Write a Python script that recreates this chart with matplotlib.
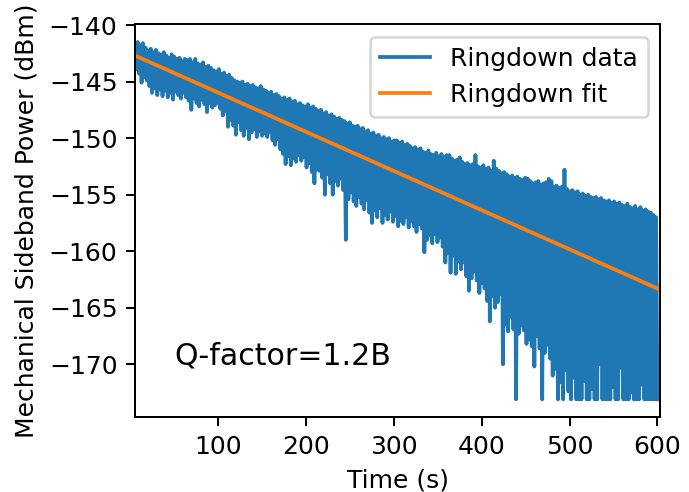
import numpy as np
import matplotlib
matplotlib.use('Agg')
import matplotlib.pyplot as plt

# Ringdown data (dBm), one peak and one trough about every 3 s
ringdown_peaks = [
    -141.6, -141.5, -141.8, -141.6, -142.0, -142.3, -142.1, -142.4, -142.2, -142.5,
    -142.6, -142.4, -142.7, -142.9, -142.6, -142.8, -143.0, -142.9, -143.2, -143.0,
    -143.1, -143.0, -143.3, -143.0, -143.4, -143.5, -143.3, -143.7, -143.6, -143.8,
    -144.0, -144.1, -143.9, -144.3, -144.2, -144.5, -144.4, -144.7, -144.9, -145.0,
    -145.1, -145.0, -145.3, -145.2, -145.4, -145.3, -145.5, -145.6, -145.4, -145.7,
    -145.8, -146.0, -145.9, -146.2, -146.1, -146.3, -146.5, -146.4, -146.6, -146.5,
    -146.8, -146.7, -147.0, -146.9, -147.1, -147.2, -147.0, -147.3, -147.2, -147.4,
    -147.6, -147.5, -147.8, -147.7, -148.0, -147.9, -148.1, -148.3, -148.2, -148.4,
    -148.5, -148.7, -148.6, -148.9, -149.0, -148.9, -149.2, -149.1, -149.4, -149.3,
    -149.6, -149.5, -149.8, -149.7, -150.0, -149.9, -150.1, -150.0, -150.3, -150.2,
    -150.2, -150.4, -150.3, -150.6, -150.5, -150.7, -150.9, -150.8, -151.0, -150.9,
    -151.2, -151.3, -151.1, -151.4, -151.5, -151.3, -151.6, -151.4, -151.7, -151.5,
    -151.5, -151.8, -152.0, -151.9, -151.7, -152.1, -152.3, -152.2, -152.4, -152.3,
    -151.5, -152.5, -152.6, -152.4, -152.7, -152.6, -152.9, -152.0, -152.7, -152.9,
    -153.1, -153.0, -153.2, -153.4, -153.3, -153.5, -153.4, -153.6, -153.7, -153.5,
    -153.6, -153.8, -154.0, -153.9, -153.8, -154.1, -154.0, -153.9, -153.6, -153.8,
    -154.3, -154.2, -154.4, -154.3, -152.8, -154.5, -154.7, -154.6, -154.8, -154.7,
    -155.0, -154.9, -155.1, -155.0, -155.2, -155.3, -155.2, -155.4, -155.3, -155.5,
    -155.6, -155.5, -155.7, -155.6, -155.8, -155.7, -155.9, -156.0, -155.8, -156.1,
    -156.2, -156.0, -156.3, -156.1, -156.4, -156.3, -156.5, -156.6, -156.8, -157.0,
]
ringdown_troughs = [
    -143.9, -144.3, -145.1, -144.6, -144.9, -145.4, -146.0, -145.6, -146.2, -145.7,
    -146.3, -145.8, -146.4, -146.0, -146.6, -145.9, -146.2, -146.5, -146.0, -146.4,
    -146.7, -147.5, -146.5, -146.9, -147.2, -146.6, -147.0, -147.7, -146.9, -147.3,
    -147.1, -146.9, -147.4, -148.0, -147.6, -149.0, -148.4, -148.9, -149.7, -148.6,
    -149.3, -149.8, -149.1, -150.1, -149.5, -149.2, -149.9, -149.4, -149.8, -149.6,
    -149.9, -149.5, -150.2, -150.6, -150.1, -151.0, -151.4, -152.3, -151.6, -152.4,
    -151.8, -152.1, -151.5, -152.0, -151.7, -152.6, -152.2, -153.0, -154.0, -152.8,
    -152.9, -153.5, -155.0, -153.2, -154.0, -155.0, -153.8, -154.2, -153.6, -154.6,
    -159.0, -155.4, -154.8, -155.6, -156.0, -155.2, -155.8, -156.3, -155.5, -156.6,
    -157.5, -156.4, -157.0, -156.2, -157.5, -156.8, -157.2, -156.5, -157.4, -156.9,
    -157.8, -157.3, -157.6, -157.0, -157.9, -157.4, -157.8, -158.3, -157.6, -158.0,
    -160.1, -159.0, -158.6, -159.3, -158.5, -159.2, -158.8, -159.6, -161.0, -160.2,
    -161.9, -160.4, -162.0, -160.9, -161.6, -161.0, -162.2, -163.5, -162.4, -161.8,
    -162.6, -163.7, -162.8, -163.3, -164.4, -166.2, -164.0, -165.0, -164.5, -163.8,
    -170.0, -166.5, -167.1, -165.8, -166.9, -173.1, -167.3, -166.6, -167.0, -168.2,
    -167.8, -168.4, -170.2, -167.5, -168.6, -173.1, -169.0, -168.3, -169.5, -171.0,
    -170.4, -173.1, -171.6, -173.1, -170.5, -172.4, -173.1, -171.2, -173.1, -173.1,
    -173.1, -171.5, -173.1, -173.1, -172.2, -173.1, -173.1, -170.0, -173.1, -173.1,
    -173.1, -173.1, -172.0, -173.1, -173.1, -170.3, -173.1, -173.1, -173.1, -172.5,
    -173.1, -173.1, -173.1, -171.8, -173.1, -173.1, -173.1, -173.1, -173.1, -173.1,
]
ringdown_power = np.column_stack([ringdown_peaks, ringdown_troughs]).ravel()
ringdown_time = np.linspace(5, 600, len(ringdown_power))

# linear fit in dB
fit_time = [5, 600]
fit_power = [-142.7, -163.3]

q_text = 'Q-factor=1.2B'

dpi = 180
fig = plt.figure(figsize=(689 / dpi, 492 / dpi), dpi=dpi)
plt.subplots_adjust(left=0.196, right=0.958, top=0.951, bottom=0.152)

plt.plot(ringdown_time, ringdown_power, label='Ringdown data')
plt.plot(fit_time, fit_power, label='Ringdown fit')
plt.text(50, -170, q_text, fontsize=12)

plt.xlim(5, 603)
plt.xlabel('Time (s)')
plt.ylabel('Mechanical Sideband Power (dBm)')
plt.legend()
plt.savefig('out.png', dpi=dpi)
